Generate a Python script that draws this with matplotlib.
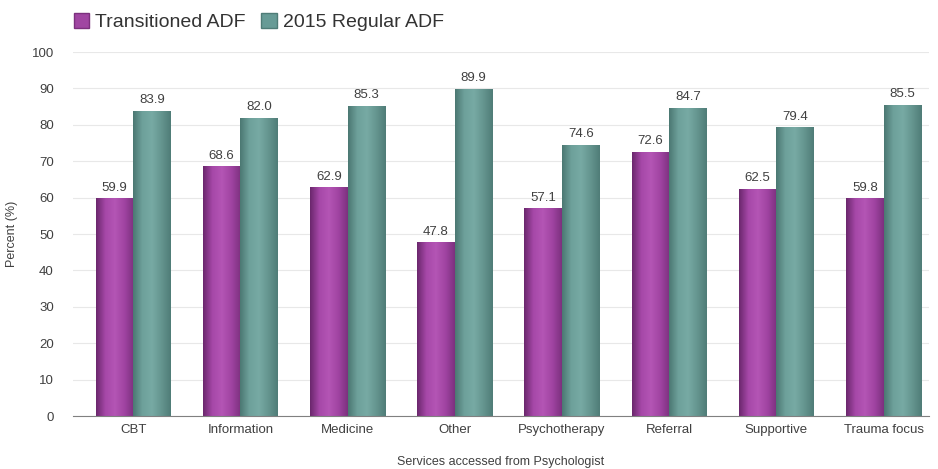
import numpy as np
import matplotlib.pyplot as plt
from matplotlib.colors import LinearSegmentedColormap
from matplotlib.patches import Patch

categories = ['CBT', 'Information', 'Medicine', 'Other', 'Psychotherapy',
              'Referral', 'Supportive', 'Trauma focus']
transitioned = [59.9, 68.6, 62.9, 47.8, 57.1, 72.6, 62.5, 59.8]
regular_2015 = [83.9, 82.0, 85.3, 89.9, 74.6, 84.7, 79.4, 85.5]
series_names = ['Transitioned ADF', '2015 Regular ADF']

purple = '#a046a2'
teal = '#679b96'
purple_map = LinearSegmentedColormap.from_list(
    'p', ['#6a276c', '#a648a8', '#b455b5', '#a044a2', '#7c317e'])
teal_map = LinearSegmentedColormap.from_list(
    'g', ['#4b7772', '#6ea19b', '#77aaa4', '#65958f', '#4f7c77'])

plt.rcParams['font.family'] = ['Liberation Sans', 'DejaVu Sans']

fig = plt.figure(figsize=(9.38, 4.69), dpi=100)
ax = fig.add_axes([0.078, 0.113, 0.912, 0.776])

x = np.arange(len(categories))
w = 0.35
grad = np.linspace(0, 1, 256).reshape(1, -1)

for vals, off, col, cmap in [(transitioned, -w / 2, purple, purple_map),
                             (regular_2015, w / 2, teal, teal_map)]:
    bars = ax.bar(x + off, vals, width=w, color=col, zorder=2)
    for b, v in zip(bars, vals):
        x0, y0 = b.get_x(), b.get_y()
        im = ax.imshow(grad, cmap=cmap, aspect='auto', zorder=3,
                       extent=[x0, x0 + b.get_width(), y0, y0 + b.get_height()])
        im.set_clip_path(b)
        ax.text(b.get_x() + b.get_width() / 2, v + 1.2, f'{v:.1f}',
                ha='center', va='bottom', fontsize=9.5, color='#404040', zorder=4)

ax.set_xlim(-0.56, 7.42)
ax.set_ylim(0, 100)
ax.set_yticks(range(0, 101, 10))
ax.set_xticks(x)
ax.set_xticklabels(categories)
ax.tick_params(axis='both', labelsize=9.5, colors='#404040', length=0, pad=6)
ax.tick_params(axis='y', pad=14)
ax.grid(axis='y', color='#e8e8e8', linewidth=0.8, zorder=0)
for s in ['top', 'right', 'left']:
    ax.spines[s].set_visible(False)
ax.spines['bottom'].set_color('#808080')
ax.spines['bottom'].set_zorder(5)

ax.set_ylabel('Percent (%)', fontsize=9, color='#404040', labelpad=10)
ax.set_xlabel('Services accessed from Psychologist', fontsize=9,
              color='#404040', labelpad=14)

handles = [Patch(facecolor=purple, edgecolor='#7c317e'),
           Patch(facecolor=teal, edgecolor='#4f7c77')]
fig.legend(handles, series_names, loc='upper left', bbox_to_anchor=(0.06, 1.01),
           ncol=2, frameon=False, fontsize=14, handlelength=0.8, handleheight=0.8,
           handletextpad=0.3, columnspacing=0.8, labelcolor='#333333')

fig.savefig('out.png', dpi=100)
